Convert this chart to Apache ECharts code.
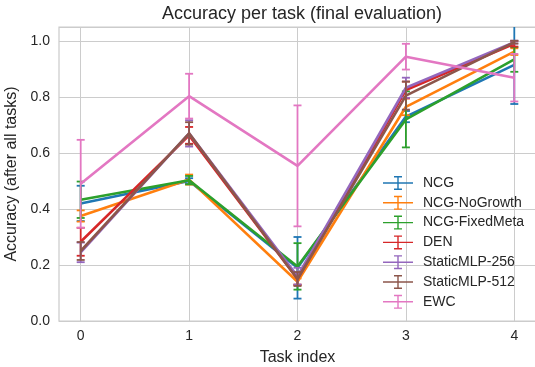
<!DOCTYPE html>
<html>
<head>
<meta charset="utf-8">
<script src="https://cdn.jsdelivr.net/npm/echarts@6/dist/echarts.min.js"></script>
<style>html,body{margin:0;padding:0;background:#fff}#c{width:535px;height:367px}</style>
</head>
<body>
<div id="c"></div>
<script>
const tasks = [0, 1, 2, 3, 4];
const seriesNames = ['NCG', 'NCG-NoGrowth', 'NCG-FixedMeta', 'DEN', 'StaticMLP-256', 'StaticMLP-512', 'EWC'];
const ncgMean = [0.42, 0.50, 0.19, 0.73, 0.915];
const ncgErr = [0.063, 0.01, 0.11, 0.02, 0.14];
const noGrowthMean = [0.375, 0.505, 0.14, 0.765, 0.962];
const noGrowthErr = [0.02, 0.018, 0.012, 0.03, 0.012];
const fixedMetaMean = [0.433, 0.503, 0.195, 0.72, 0.934];
const fixedMetaErr = [0.065, 0.015, 0.083, 0.1, 0.044];
const denMean = [0.283, 0.663, 0.15, 0.825, 0.99];
const denErr = [0.05, 0.03, 0.02, 0.03, 0.01];
const mlp256Mean = [0.245, 0.67, 0.16, 0.833, 0.996];
const mlp256Err = [0.035, 0.047, 0.03, 0.036, 0.005];
const mlp512Mean = [0.25, 0.67, 0.15, 0.805, 0.996];
const mlp512Err = [0.032, 0.04, 0.025, 0.05, 0.005];
const ewcMean = [0.49, 0.803, 0.554, 0.944, 0.869];
const ewcErr = [0.157, 0.08, 0.216, 0.046, 0.085];
const yTicks = [0.0, 0.2, 0.4, 0.6, 0.8, 1.0];

const means = [ncgMean, noGrowthMean, fixedMetaMean, denMean, mlp256Mean, mlp512Mean, ewcMean];
const errs = [ncgErr, noGrowthErr, fixedMetaErr, denErr, mlp256Err, mlp512Err, ewcErr];
const colors = ['#1f77b4', '#ff7f0e', '#2ca02c', '#d62728', '#9467bd', '#8c564b', '#e377c2'];
const FONT = 'Liberation Sans, Arial, sans-serif';
const TXT = '#262626';

const icon = 'path://M0,7.3H30V8.7H0Z M14.3,1H15.7V15H14.3Z M11,1H19V2.4H11Z M11,13.6H19V15H11Z';

const series = [];
seriesNames.forEach((name, i) => {
  const c = colors[i];
  series.push({
    name: name, type: 'line', xAxisIndex: 1, yAxisIndex: 1,
    data: tasks.map((t, k) => [t, means[i][k]]),
    symbol: 'none', lineStyle: {color: c, width: 2.6}, itemStyle: {color: c},
    z: 2 + i, clip: false
  });
  series.push({
    name: name, type: 'custom', xAxisIndex: 1, yAxisIndex: 1,
    data: tasks.map((t, k) => [t, means[i][k] - errs[i][k], means[i][k] + errs[i][k]]),
    itemStyle: {color: c}, z: 2 + i, clip: false,
    renderItem: function (params, api) {
      const x = api.value(0);
      const lo = api.coord([x, api.value(1)]);
      const hi = api.coord([x, Math.min(api.value(2), 1.05)]);
      const capHi = api.value(2) <= 1.05;
      const w = 4;
      const st = {stroke: c, lineWidth: 1.8};
      const ch = [
        {type: 'line', shape: {x1: lo[0], y1: lo[1], x2: hi[0], y2: hi[1]}, style: st},
        {type: 'line', shape: {x1: lo[0] - w, y1: lo[1], x2: lo[0] + w, y2: lo[1]}, style: st}
      ];
      if (capHi) ch.push({type: 'line', shape: {x1: hi[0] - w, y1: hi[1], x2: hi[0] + w, y2: hi[1]}, style: st});
      return {type: 'group', children: ch};
    }
  });
});

const chart = echarts.init(document.getElementById('c'), null, {renderer: 'canvas'});
chart.setOption({
  animation: false,
  backgroundColor: '#ffffff',
  title: {
    text: 'Accuracy per task (final evaluation)', left: 297, top: 0, textAlign: 'center',
    textStyle: {fontFamily: FONT, fontSize: 18, fontWeight: 'normal', color: TXT}
  },
  grid: [
    {left: 59, top: 27, width: 477, height: 294, show: true, borderColor: '#cccccc', borderWidth: 1.25, backgroundColor: '#ffffff', containLabel: false, outerBoundsMode: 'none'},
    {left: 80.7, top: 27, width: 433.6, height: 294, show: false, containLabel: false, outerBoundsMode: 'none'}
  ],
  xAxis: [
    {
      gridIndex: 0, type: 'value', min: 0, max: 1, show: true,
      name: 'Task index', nameLocation: 'middle', nameGap: 29,
      nameTextStyle: {fontFamily: FONT, fontSize: 16, color: TXT},
      axisLine: {show: false}, axisTick: {show: false}, axisLabel: {show: false}, splitLine: {show: false}
    },
    {
      gridIndex: 1, type: 'value', min: 0, max: 4, interval: 1,
      axisLine: {show: false}, axisTick: {show: false},
      axisLabel: {fontFamily: FONT, fontSize: 14, color: TXT, margin: 8, formatter: v => String(tasks[Math.round(v)])},
      splitLine: {show: true, lineStyle: {color: '#cccccc', width: 1}}
    }
  ],
  yAxis: [
    {
      gridIndex: 0, type: 'value', min: 0, max: 1.05, interval: 0.2,
      name: 'Accuracy (after all tasks)', nameLocation: 'middle', nameGap: 35,
      nameTextStyle: {fontFamily: FONT, fontSize: 16, color: TXT},
      axisLine: {show: false}, axisTick: {show: false},
      axisLabel: {
        fontFamily: FONT, fontSize: 14, color: TXT, margin: 9,
        formatter: v => {
          const r = Math.round(v * 10) / 10;
          return (Math.abs(v - r) < 1e-6 && yTicks.indexOf(r) >= 0) ? r.toFixed(1) : '';
        }
      },
      splitLine: {show: true, lineStyle: {color: '#cccccc', width: 1}}
    },
    {
      gridIndex: 1, type: 'value', min: 0, max: 1.05, show: false,
      splitLine: {show: false}
    }
  ],
  legend: {
    orient: 'vertical', left: 378, top: 171,
    itemWidth: 30, itemHeight: 16, itemGap: 5.8,
    data: seriesNames.map(n => ({name: n, icon: icon})),
    textStyle: {fontFamily: FONT, fontSize: 14, color: TXT, padding: [0, 0, 0, 5]}
  },
  series: series
});
</script>
</body>
</html>
